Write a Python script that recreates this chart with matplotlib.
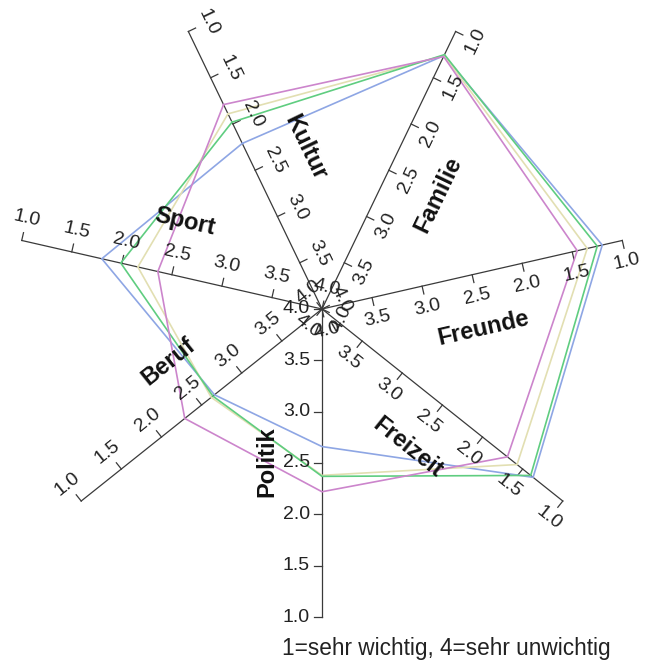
import numpy as np
import matplotlib
matplotlib.use("Agg")
import matplotlib.pyplot as plt

# spokes, clockwise from top
spokes = ["Kultur", "Familie", "Freunde", "Freizeit", "Politik", "Beruf", "Sport"]
ticks = [1.0, 1.5, 2.0, 2.5, 3.0, 3.5, 4.0]

blue_vals = [2.21, 1.26, 1.20, 1.37, 2.66, 2.66, 1.80]
green_vals = [1.98, 1.25, 1.25, 1.40, 2.37, 2.64, 1.99]
beige_vals = [1.89, 1.26, 1.35, 1.57, 2.38, 2.62, 2.16]
purple_vals = [1.79, 1.27, 1.45, 1.69, 2.22, 2.29, 2.36]

series = [blue_vals, beige_vals, green_vals, purple_vals]
colors = ["#8ea6e4", "#e2dfb2", "#5fcd80", "#cc85cc"]

note = "1=sehr wichtig, 4=sehr unwichtig"

W, H = 647, 667
CX, CY, R = 322, 309, 308
PX = 1.0 / R

fig = plt.figure(figsize=(W / 100, H / 100), dpi=100)
ax = fig.add_axes([0, 0, 1, 1])
ax.set_xlim(-CX / R, (W - CX) / R)
ax.set_ylim(-(H - CY) / R, CY / R)
ax.set_axis_off()

n = len(spokes)
step = 360.0 / n
angles = [90 + step / 2 - step * i for i in range(n)]


def rad(v):
    # 1 = outside, 4 = centre
    return (4.0 - v) / 3.0


def text_rot(a):
    r = a % 180
    if r > 90:
        r -= 180
    return r


for i, name in enumerate(spokes):
    a = np.radians(angles[i])
    d = np.array([np.cos(a), np.sin(a)])
    nrm = np.array([np.sin(a), -np.cos(a)])  # clockwise side
    ax.plot([0, d[0]], [0, d[1]], color="#3a3a3a", lw=0.9, zorder=1)
    rot = text_rot(angles[i])
    for t in ticks:
        p = d * rad(t)
        q = p + nrm * 8 * PX
        ax.plot([p[0], q[0]], [p[1], q[1]], color="#3a3a3a", lw=0.9, zorder=1)
        lab = "%.1f" % t
        if name == "Politik":
            ax.text(p[0] - 12 * PX, p[1], lab, ha="right", va="center",
                    fontsize=14, color="#222222", family="Liberation Sans")
        else:
            lp = p + nrm * 22 * PX
            ax.text(lp[0], lp[1], lab, ha="center", va="center", rotation=rot,
                    rotation_mode="anchor", fontsize=14, color="#222222",
                    family="Liberation Sans")
    lp = d * 153 * PX + nrm * 55 * PX
    ax.text(lp[0], lp[1], name, ha="center", va="center", rotation=rot,
            rotation_mode="anchor", fontsize=17, fontweight="bold",
            color="#111111", family="Liberation Sans")

for vals, c in zip(series, colors):
    xs = [np.cos(np.radians(angles[i])) * rad(v) for i, v in enumerate(vals)]
    ys = [np.sin(np.radians(angles[i])) * rad(v) for i, v in enumerate(vals)]
    ax.plot(xs + xs[:1], ys + ys[:1], color=c, lw=1.2, zorder=2)

ax.text((282 - CX) * PX, (CY - 648) * PX, note, ha="left", va="center",
        fontsize=16.3, color="#222222", family="Liberation Sans")

fig.savefig("out.png", dpi=100)
